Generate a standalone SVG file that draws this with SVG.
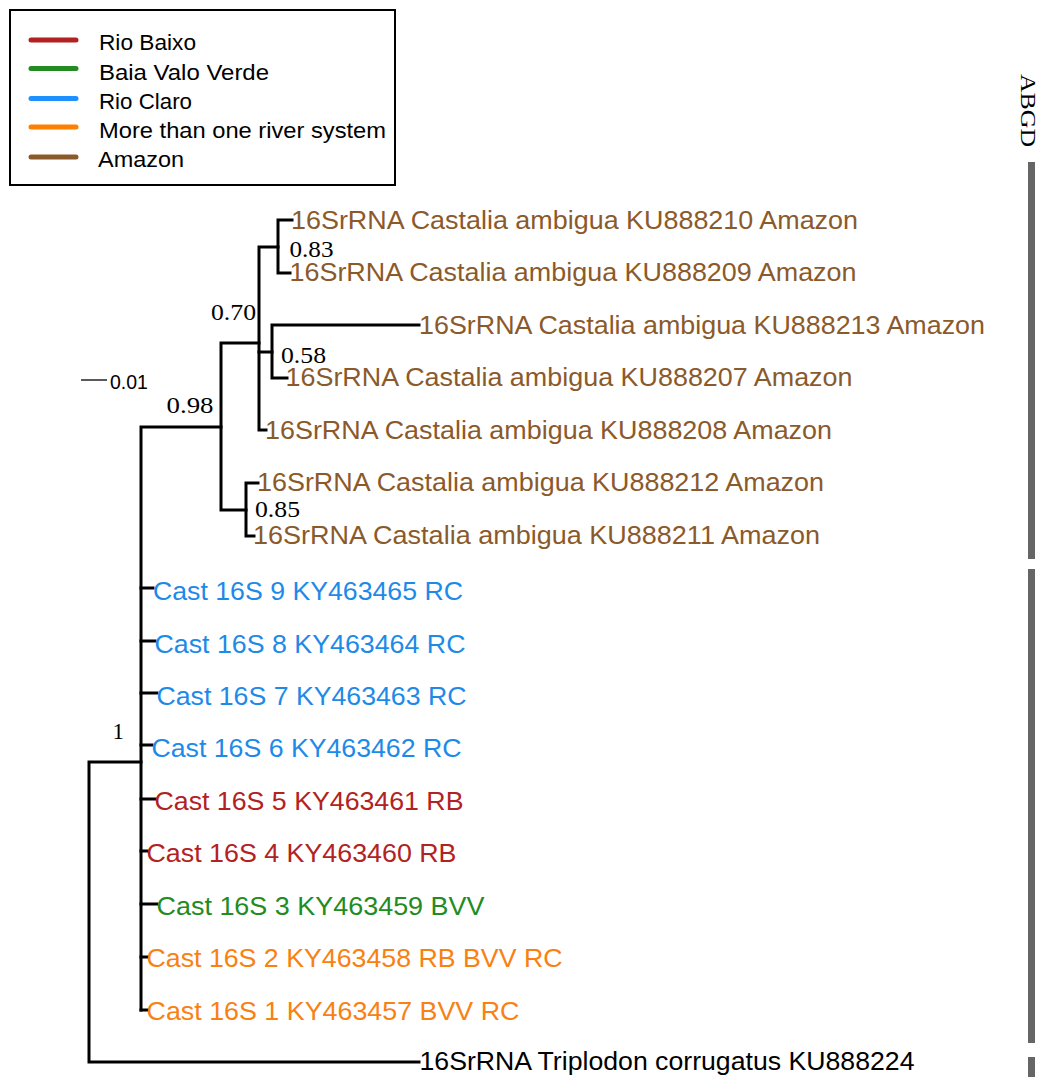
<svg xmlns="http://www.w3.org/2000/svg" width="1038" height="1077" viewBox="0 0 1038 1077">
<style>
.lab{font-family:"Liberation Sans",Arial,sans-serif;font-size:25px}
.leg{font-family:"Liberation Sans",Arial,sans-serif;font-size:22px;fill:#000}
.bs{font-family:"Liberation Serif","Times New Roman",serif;font-size:23px;fill:#000}
.br{fill:none;stroke:#000;stroke-width:3;stroke-linecap:square;stroke-linejoin:miter}
.am{fill:#8B5A2B}.rc{fill:#1E8AE8}.rb{fill:#B22222}.bv{fill:#228B22}.mo{fill:#F88112}
.ll{stroke-width:5;stroke-linecap:round}
.bar{fill:#666}
</style>
<rect width="1038" height="1077" fill="#fff"/>
<g id="legend">
<rect x="10" y="10" width="385" height="175" fill="#fff" stroke="#000" stroke-width="2"/>
<line class="ll" x1="31" y1="40" x2="76" y2="40" stroke="#B22222"/>
<line class="ll" x1="31" y1="68.5" x2="76" y2="68.5" stroke="#228B22"/>
<line class="ll" x1="31" y1="98.5" x2="76" y2="98.5" stroke="#1E90FF"/>
<line class="ll" x1="31" y1="127" x2="76" y2="127" stroke="#FF7F00"/>
<line class="ll" x1="31" y1="157" x2="76" y2="157" stroke="#8B5A2B"/>
<text class="leg" x="99" y="50" textLength="97" lengthAdjust="spacingAndGlyphs">Rio Baixo</text>
<text class="leg" x="99" y="79.5" textLength="170" lengthAdjust="spacingAndGlyphs">Baia Valo Verde</text>
<text class="leg" x="99" y="109" textLength="93" lengthAdjust="spacingAndGlyphs">Rio Claro</text>
<text class="leg" x="99" y="138" textLength="287" lengthAdjust="spacingAndGlyphs">More than one river system</text>
<text class="leg" x="98" y="166.5" textLength="86" lengthAdjust="spacingAndGlyphs">Amazon</text>
</g>
<g id="scale">
<line x1="81" y1="380" x2="107" y2="380" stroke="#000" stroke-width="1.3"/>
<text x="110" y="389" font-family="Liberation Sans,Arial,sans-serif" font-size="19.5" fill="#000">0.01</text>
</g>
<g id="connectors">
<path class="br" d="M419 1062 H89 V762 H141"/>
<path class="br" d="M141 1010 V427 H221"/>
<path class="br" d="M141 588 H153 M141 641 H155 M141 693 H157 M141 745 H152 M141 799 H155 M141 851 H147 M141 904 H157 M141 957 H147 M141 1010 H147"/>
<path class="br" d="M259 343 H221 V510 H246"/>
<path class="br" d="M266 430 H259 V247 H278"/>
<path class="br" d="M292 220 H278 V273 H290"/>
<path class="br" d="M259 352 H272"/>
<path class="br" d="M419 325 H272 V378 H287"/>
<path class="br" d="M258 483 H246 V536 H254"/>
</g>
<g id="support">
<text class="bs" x="289.5" y="257" textLength="44" lengthAdjust="spacingAndGlyphs">0.83</text>
<text class="bs" x="211" y="320" textLength="45" lengthAdjust="spacingAndGlyphs">0.70</text>
<text class="bs" x="281" y="363" textLength="45" lengthAdjust="spacingAndGlyphs">0.58</text>
<text class="bs" x="166.5" y="413" textLength="47" lengthAdjust="spacingAndGlyphs">0.98</text>
<text class="bs" x="255" y="517" textLength="45" lengthAdjust="spacingAndGlyphs">0.85</text>
<text class="bs" x="112.5" y="738.5">1</text>
</g>
<g id="KU888210"><text class="lab am" x="291" y="228.5" textLength="567" lengthAdjust="spacingAndGlyphs">16SrRNA Castalia ambigua KU888210 Amazon</text></g>
<g id="KU888209"><text class="lab am" x="289.5" y="281" textLength="567" lengthAdjust="spacingAndGlyphs">16SrRNA Castalia ambigua KU888209 Amazon</text></g>
<g id="KU888213"><text class="lab am" x="419" y="333.5" textLength="566" lengthAdjust="spacingAndGlyphs">16SrRNA Castalia ambigua KU888213 Amazon</text></g>
<g id="KU888207"><text class="lab am" x="285.5" y="386" textLength="567" lengthAdjust="spacingAndGlyphs">16SrRNA Castalia ambigua KU888207 Amazon</text></g>
<g id="KU888208"><text class="lab am" x="265" y="438.5" textLength="567" lengthAdjust="spacingAndGlyphs">16SrRNA Castalia ambigua KU888208 Amazon</text></g>
<g id="KU888212"><text class="lab am" x="257" y="491" textLength="567" lengthAdjust="spacingAndGlyphs">16SrRNA Castalia ambigua KU888212 Amazon</text></g>
<g id="KU888211"><text class="lab am" x="253" y="543.5" textLength="567" lengthAdjust="spacingAndGlyphs">16SrRNA Castalia ambigua KU888211 Amazon</text></g>
<g id="KY463465"><text class="lab rc" x="153" y="600" textLength="310" lengthAdjust="spacingAndGlyphs">Cast 16S 9 KY463465 RC</text></g>
<g id="KY463464"><text class="lab rc" x="154.5" y="652.5" textLength="311" lengthAdjust="spacingAndGlyphs">Cast 16S 8 KY463464 RC</text></g>
<g id="KY463463"><text class="lab rc" x="156.5" y="705" textLength="310" lengthAdjust="spacingAndGlyphs">Cast 16S 7 KY463463 RC</text></g>
<g id="KY463462"><text class="lab rc" x="151.5" y="757" textLength="310" lengthAdjust="spacingAndGlyphs">Cast 16S 6 KY463462 RC</text></g>
<g id="KY463461"><text class="lab rb" x="154.5" y="809.5" textLength="309" lengthAdjust="spacingAndGlyphs">Cast 16S 5 KY463461 RB</text></g>
<g id="KY463460"><text class="lab rb" x="146.5" y="862" textLength="310" lengthAdjust="spacingAndGlyphs">Cast 16S 4 KY463460 RB</text></g>
<g id="KY463459"><text class="lab bv" x="156.5" y="914.5" textLength="328" lengthAdjust="spacingAndGlyphs">Cast 16S 3 KY463459 BVV</text></g>
<g id="KY463458"><text class="lab mo" x="146.5" y="967" textLength="416" lengthAdjust="spacingAndGlyphs">Cast 16S 2 KY463458 RB BVV RC</text></g>
<g id="KY463457"><text class="lab mo" x="146.5" y="1019.5" textLength="373" lengthAdjust="spacingAndGlyphs">Cast 16S 1 KY463457 BVV RC</text></g>
<g id="KU888224"><text class="lab" fill="#000" x="419.5" y="1069.5" textLength="495" lengthAdjust="spacingAndGlyphs">16SrRNA Triplodon corrugatus KU888224</text></g>
<g id="abgd">
<text class="bs" transform="translate(1021 74) rotate(90)" x="0" y="0" textLength="73" lengthAdjust="spacingAndGlyphs" style="font-size:21px">ABGD</text>
<rect class="bar" x="1028" y="162" width="7" height="397"/>
<rect class="bar" x="1028" y="569" width="7" height="474"/>
<rect class="bar" x="1028" y="1057" width="7" height="20"/>
</g>
</svg>
